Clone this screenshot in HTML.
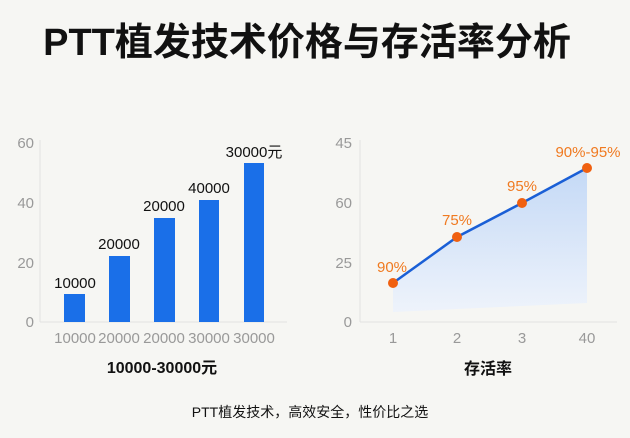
<!DOCTYPE html>
<html><head><meta charset="utf-8"><style>
body{margin:0;width:630px;height:433px;background:#f6f6f3;overflow:hidden;font-family:"Liberation Sans","Noto Sans CJK SC",sans-serif}
</style></head><body>
<svg width="630" height="433" xmlns="http://www.w3.org/2000/svg" font-family="Liberation Sans, Noto Sans CJK SC, sans-serif">
<defs><linearGradient id="g" x1="0" y1="0" x2="0" y2="1"><stop offset="0" stop-color="#c4d9f6"/><stop offset="1" stop-color="#eef3fb"/></linearGradient></defs>
<text x="307" y="55" text-anchor="middle" font-size="38" font-weight="bold" fill="#111">PTT植发技术价格与存活率分析</text>
<!-- left -->
<g font-size="15" fill="#999" text-anchor="end">
<text x="34" y="148">60</text><text x="34" y="208">40</text><text x="34" y="268">20</text><text x="34" y="327">0</text></g>
<line x1="40" y1="140" x2="40" y2="322" stroke="#e2e2e2"/>
<line x1="40" y1="322" x2="287" y2="322" stroke="#e2e2e2"/>
<g fill="#1a6fe8">
<rect x="64" y="294" width="21" height="28"/><rect x="109" y="256" width="21" height="66"/><rect x="154" y="218" width="21" height="104"/><rect x="199" y="200" width="20" height="122"/><rect x="244" y="163" width="20" height="159"/></g>
<g font-size="15" fill="#111" text-anchor="middle">
<text x="75" y="288">10000</text><text x="119" y="249">20000</text><text x="164" y="211">20000</text><text x="209" y="193">40000</text><text x="254" y="157">30000元</text></g>
<g font-size="15" fill="#999" text-anchor="middle">
<text x="75" y="343">10000</text><text x="119" y="343">20000</text><text x="164" y="343">20000</text><text x="209" y="343">30000</text><text x="254" y="343">30000</text></g>
<text x="162" y="373" text-anchor="middle" font-size="16" font-weight="bold" fill="#111">10000-30000元</text>
<!-- right -->
<g font-size="15" fill="#999" text-anchor="end">
<text x="352" y="148">45</text><text x="352" y="208">60</text><text x="352" y="268">25</text><text x="352" y="327">0</text></g>
<line x1="360" y1="140" x2="360" y2="322" stroke="#e2e2e2"/>
<line x1="360" y1="322" x2="617" y2="322" stroke="#e2e2e2"/>
<polygon points="393,283 457,237 522,203 587,168 587,303 393,312" fill="url(#g)"/>
<polyline points="393,283 457,237 522,203 587,168" fill="none" stroke="#1a5fd6" stroke-width="2.5"/>
<g fill="#f06010"><circle cx="393" cy="283" r="5"/><circle cx="457" cy="237" r="5"/><circle cx="522" cy="203" r="5"/><circle cx="587" cy="168" r="5"/></g>
<g font-size="15" fill="#f07a20" text-anchor="middle">
<text x="392" y="272">90%</text><text x="457" y="225">75%</text><text x="522" y="191">95%</text><text x="588" y="157">90%-95%</text></g>
<g font-size="15" fill="#999" text-anchor="middle">
<text x="393" y="343">1</text><text x="457" y="343">2</text><text x="522" y="343">3</text><text x="587" y="343">40</text></g>
<text x="488" y="374" text-anchor="middle" font-size="16" font-weight="bold" fill="#111">存活率</text>
<text x="310" y="417" text-anchor="middle" font-size="14" fill="#111">PTT植发技术，高效安全，性价比之选</text>
</svg>
</body></html>
